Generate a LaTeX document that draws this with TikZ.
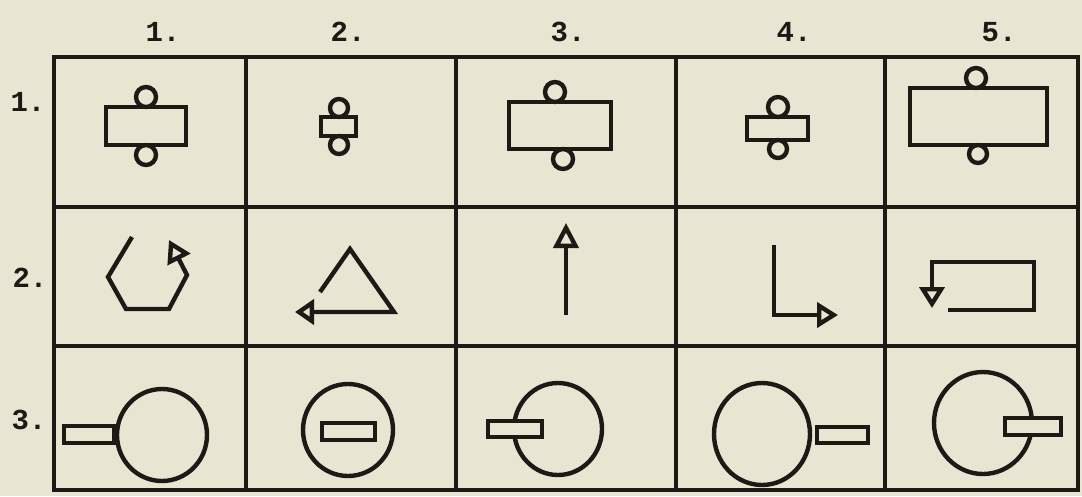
\documentclass[tikz,border=0pt]{standalone}
\usepackage{fontspec}
\setmonofont{Liberation Mono}
\usetikzlibrary{arrows.meta}
\definecolor{paper}{RGB}{233,229,211}
\definecolor{ink}{RGB}{30,25,20}
\tikzset{
  gridline/.style={draw=ink, line width=3.6pt, line cap=rect},
  fig/.style={draw=ink, line width=4.4pt, line join=miter},
  figbox/.style={fig, fill=paper},
  lab/.style={text=ink, font=\ttfamily\bfseries\fontsize{29}{29}\selectfont, anchor=base, inner sep=0pt},
  opentip/.style={-{Triangle[open, length=#1, width=25pt, line join=miter]}},
}
\begin{document}
\begin{tikzpicture}[x=1pt, y=-1pt]
\fill[paper] (0,0) rectangle (1082,496);
\useasboundingbox (0,0) rectangle (1082,496);
% labels
\node[lab] (c1) at (163,41) {1.};
\node[lab] (c2) at (348,41) {2.};
\node[lab] (c3) at (568,41) {3.};
\node[lab] (c4) at (794,41) {4.};
\node[lab] (c5) at (999,41) {5.};
\node[lab] (r1) at (28,111) {1.};
\node[lab] (r2) at (30,287) {2.};
\node[lab] (r3) at (29,429) {3.};
% grid
\foreach \x in {54,246,456,676,885,1078} \draw[gridline] (\x,57) -- (\x,490);
\foreach \y in {57,207,346,490} \draw[gridline] (54,\y) -- (1078,\y);
% row 1
\draw[fig] (106,107) rectangle (186,145);
\draw[fig] (146,97) circle[radius=10]; \draw[fig] (146,155) circle[radius=10];
\draw[fig] (321,117) rectangle (356,136);
\draw[fig] (339,108) circle[radius=9]; \draw[fig] (339,145) circle[radius=9];
\draw[fig] (509,102) rectangle (611,149);
\draw[fig] (555,92) circle[radius=10]; \draw[fig] (563,159) circle[radius=10];
\draw[fig] (747,117) rectangle (808,140);
\draw[fig] (778,107) circle[radius=10]; \draw[fig] (778,149) circle[radius=9];
\draw[fig] (910,88) rectangle (1047,145);
\draw[fig] (976,78) circle[radius=10]; \draw[fig] (978,154) circle[radius=9];
% row 2
\draw[fig, opentip=22pt] (132,237) -- (108,277) -- (126,309) -- (169,309) -- (187,275) -- (169,240);
\draw[fig, opentip=19pt] (320,292) -- (350,249) -- (394,312) -- (295,312);
\draw[fig, opentip=25pt] (566,315) -- (566,223);
\draw[fig, opentip=21pt] (774,245) -- (774,315) -- (838,315);
\draw[fig, opentip=21pt] (948,310) -- (1034,310) -- (1034,262) -- (932,262) -- (932,308);
% row 3
\draw[fig] (162,435) ellipse[x radius=45, y radius=46];
\draw[figbox] (64,426) rectangle (114,443);
\draw[fig] (348,430) ellipse[x radius=45, y radius=46];
\draw[figbox] (322,423) rectangle (375,440);
\draw[fig] (558,429) ellipse[x radius=44, y radius=46];
\draw[figbox] (488,421) rectangle (542,437);
\draw[fig] (762,434) ellipse[x radius=48, y radius=51];
\draw[figbox] (817,427) rectangle (868,443);
\draw[fig] (983,423) ellipse[x radius=49, y radius=51];
\draw[figbox] (1005,418) rectangle (1061,435);
\end{tikzpicture}
\end{document}
